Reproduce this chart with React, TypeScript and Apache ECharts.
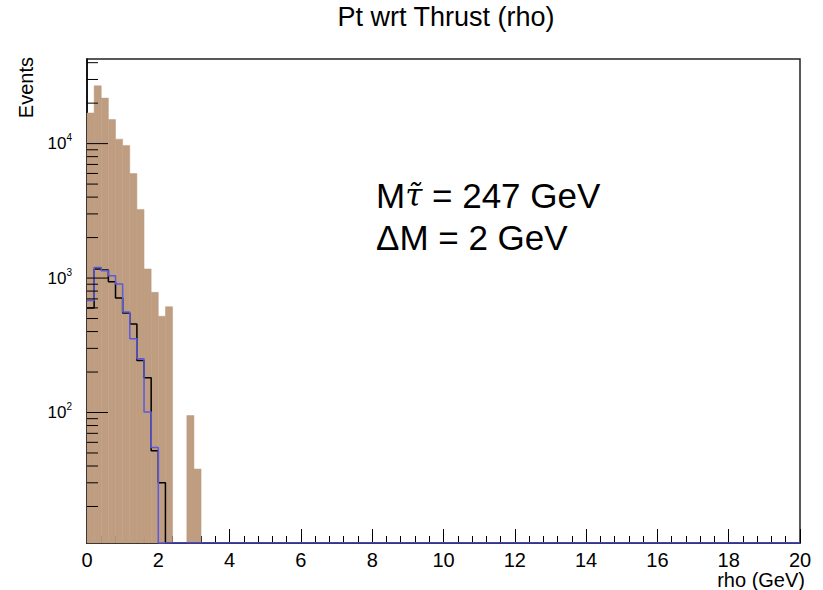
import React, { useEffect, useRef } from 'react';
import * as echarts from 'echarts';

const X_MIN = 0;
const X_MAX = 20;
const X_INTERVAL = 2;
const BIN_WIDTH = 0.2;
const N_BINS = 100;
const Y_MIN = 10.7;
const Y_MAX = 42600;

// bin contents, bins of 0.2 GeV starting at 0 (later bins are empty)
const brownCounts = [16900, 26900, 21800, 15100, 10800, 9670, 5990, 3240, 1170, 783, 520, 612, 0, 0, 95, 38];
const blackCounts = [600, 1166, 1150, 940, 711, 550, 456, 244, 181, 52, 30];
const blueCounts = [680, 1200, 1132, 1040, 903, 560, 353, 251, 101, 55, 0];

const yMajorTicks = [100, 1000, 10000];
const yMinorTicks = [
  20, 30, 40, 50, 60, 70, 80, 90,
  200, 300, 400, 500, 600, 700, 800, 900,
  2000, 3000, 4000, 5000, 6000, 7000, 8000, 9000,
  20000, 30000, 40000,
];

const TITLE = 'Pt wrt Thrust (rho)';
const Y_NAME = 'Events';
const X_NAME = 'rho (GeV)';
const NOTE_1 = 'M{t|τ̃} = 247 GeV';
const NOTE_2 = 'ΔM = 2 GeV';

const FONT = '"Liberation Sans", Arial, Helvetica, sans-serif';

function countAt(counts: number[], i: number) {
  return i < counts.length ? counts[i] : 0;
}

function stepData(counts: number[]) {
  const pts: number[][] = [];
  for (let i = 0; i < N_BINS; i++) {
    pts.push([+(i * BIN_WIDTH).toFixed(3), Math.max(countAt(counts, i), Y_MIN)]);
  }
  pts.push([X_MAX, pts[pts.length - 1][1]]);
  return pts;
}

function barData(counts: number[]) {
  const out: number[][] = [];
  counts.forEach((v, i) => {
    if (v > 0) out.push([+(i * BIN_WIDTH).toFixed(3), +((i + 1) * BIN_WIDTH).toFixed(3), v]);
  });
  return out;
}

export default function App() {
  const ref = useRef<HTMLDivElement>(null);

  useEffect(() => {
    if (!ref.current) return;
    const chart = echarts.init(ref.current, undefined, { renderer: 'svg' });

    const tickData = [
      ...yMajorTicks.map((v) => [X_MIN, v, 21]),
      ...yMinorTicks.map((v) => [X_MIN, v, 11]),
    ];

    chart.setOption({
      animation: false,
      backgroundColor: '#ffffff',
      grid: {
        left: 87,
        right: 23,
        top: 59,
        bottom: 45,
        show: true,
        borderColor: '#222',
        borderWidth: 1.5,
        backgroundColor: 'transparent',
      },
      xAxis: {
        type: 'value',
        min: X_MIN,
        max: X_MAX,
        interval: X_INTERVAL,
        name: X_NAME,
        nameLocation: 'end',
        nameGap: 5,
        nameTextStyle: {
          fontFamily: FONT,
          fontSize: 20,
          color: '#000',
          align: 'right',
          verticalAlign: 'top',
          padding: [27, 0, 0, 0],
        },
        axisLine: { show: true, lineStyle: { color: '#000', width: 1.5 } },
        axisTick: { show: true, inside: true, length: 14, lineStyle: { color: '#000', width: 1 } },
        minorTick: { show: true, splitNumber: 5, length: 7, lineStyle: { color: '#000', width: 1 } },
        axisLabel: { fontFamily: FONT, fontSize: 20, color: '#000', margin: 7 },
        splitLine: { show: false },
        minorSplitLine: { show: false },
      },
      yAxis: {
        type: 'log',
        logBase: 10,
        min: Y_MIN,
        max: Y_MAX,
        axisLine: { show: true, lineStyle: { color: '#000', width: 1.5 } },
        axisTick: { show: false },
        splitLine: { show: false },
        axisLabel: {
          showMinLabel: false,
          showMaxLabel: false,
          margin: 15,
          formatter: (v: number) => {
            const l = Math.log10(v);
            const e = Math.round(l);
            if (Math.abs(l - e) > 1e-6) return '';
            return `{b|10}{s|${e}}`;
          },
          rich: {
            b: { fontFamily: FONT, fontSize: 17, color: '#000', lineHeight: 22 },
            s: { fontFamily: FONT, fontSize: 10, color: '#000', lineHeight: 12, verticalAlign: 'top' },
          },
        },
      },
      series: [
        {
          type: 'custom',
          name: 'brown',
          z: 1,
          encode: { x: [0, 1], y: 2 },
          data: barData(brownCounts),
          renderItem: (params: any, api: any) => {
            const tl = api.coord([api.value(0), api.value(2)]);
            const br = api.coord([api.value(1), Y_MIN]);
            return {
              type: 'rect',
              shape: { x: tl[0], y: tl[1], width: br[0] - tl[0], height: br[1] - tl[1] },
              style: { fill: '#bf9d80', stroke: '#bf9d80', lineWidth: 0.5 },
            };
          },
        },
        {
          type: 'line',
          name: 'black',
          z: 3,
          step: 'end',
          symbol: 'none',
          data: stepData(blackCounts),
          lineStyle: { color: '#000', width: 1.5 },
        },
        {
          type: 'line',
          name: 'blue',
          z: 4,
          step: 'end',
          symbol: 'none',
          data: stepData(blueCounts),
          lineStyle: { color: '#5a5ae0', width: 1.5 },
        },
        {
          type: 'custom',
          name: 'yticks',
          z: 5,
          encode: { x: 0, y: 1 },
          data: tickData,
          renderItem: (params: any, api: any) => {
            const p = api.coord([api.value(0), api.value(1)]);
            return {
              type: 'line',
              shape: { x1: p[0], y1: p[1], x2: p[0] + api.value(2), y2: p[1] },
              style: { stroke: '#000', lineWidth: 1 },
            };
          },
        },
      ],
      graphic: [
        {
          type: 'text',
          x: 446,
          y: 17,
          style: {
            text: TITLE,
            fontFamily: FONT,
            fontSize: 27,
            fill: '#000',
            align: 'center',
            verticalAlign: 'middle',
          },
        },
        {
          type: 'text',
          x: 26,
          y: 57,
          rotation: Math.PI / 2,
          style: {
            text: Y_NAME,
            fontFamily: FONT,
            fontSize: 20,
            fill: '#000',
            align: 'right',
            verticalAlign: 'middle',
          },
        },
        {
          type: 'text',
          x: 376,
          y: 195,
          style: {
            text: NOTE_1,
            fontFamily: FONT,
            fontSize: 35,
            fill: '#000',
            align: 'left',
            verticalAlign: 'middle',
            rich: {
              t: { fontFamily: '"DejaVu Serif", serif', fontStyle: 'italic', fontSize: 31, fill: '#000' },
            },
          },
        },
        {
          type: 'text',
          x: 376,
          y: 237,
          style: {
            text: NOTE_2,
            fontFamily: FONT,
            fontSize: 35,
            fill: '#000',
            align: 'left',
            verticalAlign: 'middle',
          },
        },
      ],
    });

    return () => chart.dispose();
  }, []);

  return (
    <div
      ref={ref}
      style={{ position: 'fixed', left: 0, top: 0, width: 823, height: 590, background: '#fff' }}
    />
  );
}
